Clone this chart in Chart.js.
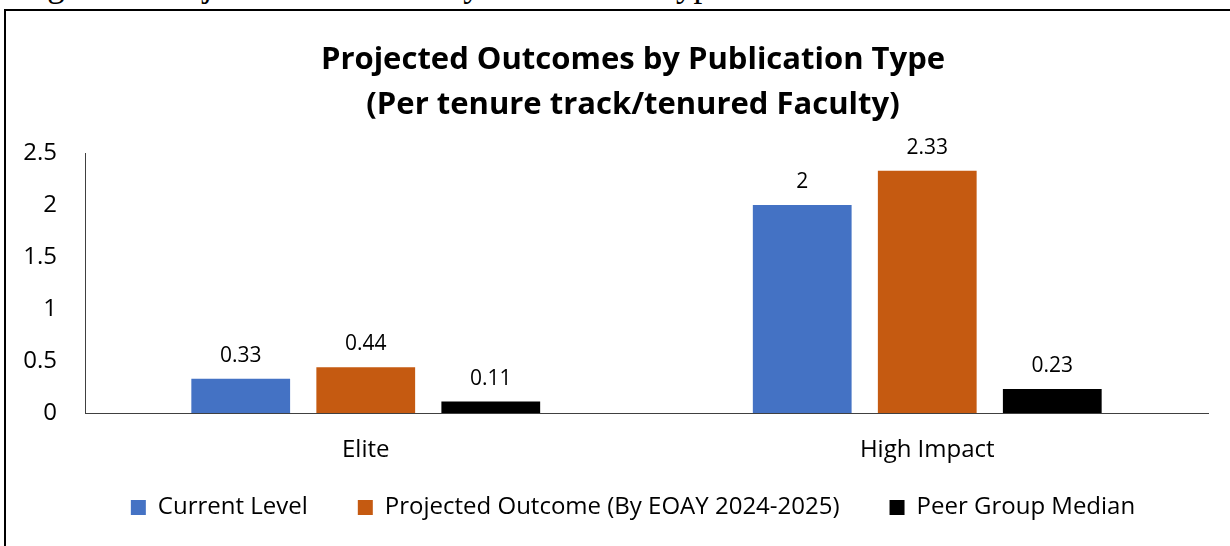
<!DOCTYPE html>
<html>
<head>
<meta charset="utf-8">
<script src="https://cdn.jsdelivr.net/npm/chart.js@4/dist/chart.umd.min.js"></script>
<style>
  html, body { margin: 0; padding: 0; background: #fff; overflow: hidden; }
  #caption {
    position: absolute; left: 18px; top: -33px;
    font-family: "Liberation Serif", serif; font-size: 35px; line-height: 1;
    color: #000; white-space: nowrap;
  }
  #frame {
    position: absolute; left: 4px; top: 9px; width: 1300px; height: 600px;
    border: 2px solid #000;
  }
  #chart { position: absolute; left: 0; top: 0; }
</style>
</head>
<body>
<div id="caption">Figure 4: Projected Outcomes by Publication Type</div>
<div id="frame"></div>
<canvas id="chart" width="1230" height="546"></canvas>
<script>
// data
const categories = ['Elite', 'High Impact'];
const seriesNames = ['Current Level', 'Projected Outcome (By EOAY 2024-2025)', 'Peer Group Median'];
const currentLevel = [0.33, 2];
const projectedOutcome = [0.44, 2.33];
const peerGroupMedian = [0.11, 0.23];
const yTickLabels = ['0', '0.5', '1', '1.5', '2', '2.5'];

const colors = ['#4472C4', '#C55A11', '#000000'];

Chart.defaults.font.family = "'Open Sans', sans-serif";
Chart.defaults.color = '#000';

// value labels above each bar
const barValueLabels = {
    id: 'barValueLabels',
    afterDatasetsDraw(chart) {
        const ctx = chart.ctx;
        ctx.save();
        ctx.font = "21px 'Open Sans', sans-serif";
        ctx.fillStyle = '#000';
        ctx.textAlign = 'center';
        ctx.textBaseline = 'alphabetic';
        chart.data.datasets.forEach((ds, i) => {
            chart.getDatasetMeta(i).data.forEach((bar, j) => {
                ctx.fillText(String(ds.data[j]), bar.x, bar.y - 17);
            });
        });
        ctx.restore();
    }
};

// axis boxes are squeezed to fit the layout, so don't clip their labels
const noLabelClip = {
    id: 'noLabelClip',
    afterLayout(chart) {
        Object.values(chart.scales).forEach(s => { s._computeLabelArea = () => undefined; });
    }
};

const seriesData = [currentLevel, projectedOutcome, peerGroupMedian];

new Chart(document.getElementById('chart').getContext('2d'), {
    type: 'bar',
    data: {
        labels: categories,
        datasets: seriesNames.map((name, i) => ({
            label: name,
            data: seriesData[i],
            backgroundColor: colors[i],
            borderWidth: 0,
            categoryPercentage: 0.668,
            barPercentage: 0.79
        }))
    },
    options: {
        responsive: false,
        animation: false,
        layout: { padding: { left: 58, right: 22, top: 0, bottom: 16.5 } },
        scales: {
            x: {
                grid: { display: false, drawTicks: false },
                border: { display: true, color: '#404040', width: 1 },
                ticks: { font: { size: 24 }, padding: 22.6, color: '#000' },
                afterFit: (scale) => { scale.height = 32.5; }
            },
            y: {
                min: 0,
                max: 2.5,
                grid: { display: false, drawTicks: false },
                border: { display: true, color: '#404040', width: 1 },
                ticks: {
                    stepSize: 0.5,
                    padding: 28,
                    font: { size: 24 },
                    color: '#000',
                    callback: (v, i) => yTickLabels[i]
                },
                afterFit: (scale) => { scale.width = 27; }
            }
        },
        plugins: {
            title: {
                display: true,
                text: ['Projected Outcomes by Publication Type', '(Per tenure track/tenured Faculty)'],
                font: { size: 31, weight: 'bold', lineHeight: '45px' },
                color: '#000',
                padding: { top: 38, bottom: 25 }
            },
            legend: {
                position: 'bottom',
                labels: {
                    boxWidth: 15,
                    boxHeight: 15,
                    padding: 50,
                    font: { size: 24 },
                    color: '#000'
                }
            },
            tooltip: { enabled: false }
        }
    },
    plugins: [barValueLabels, noLabelClip]
});
</script>
</body>
</html>
